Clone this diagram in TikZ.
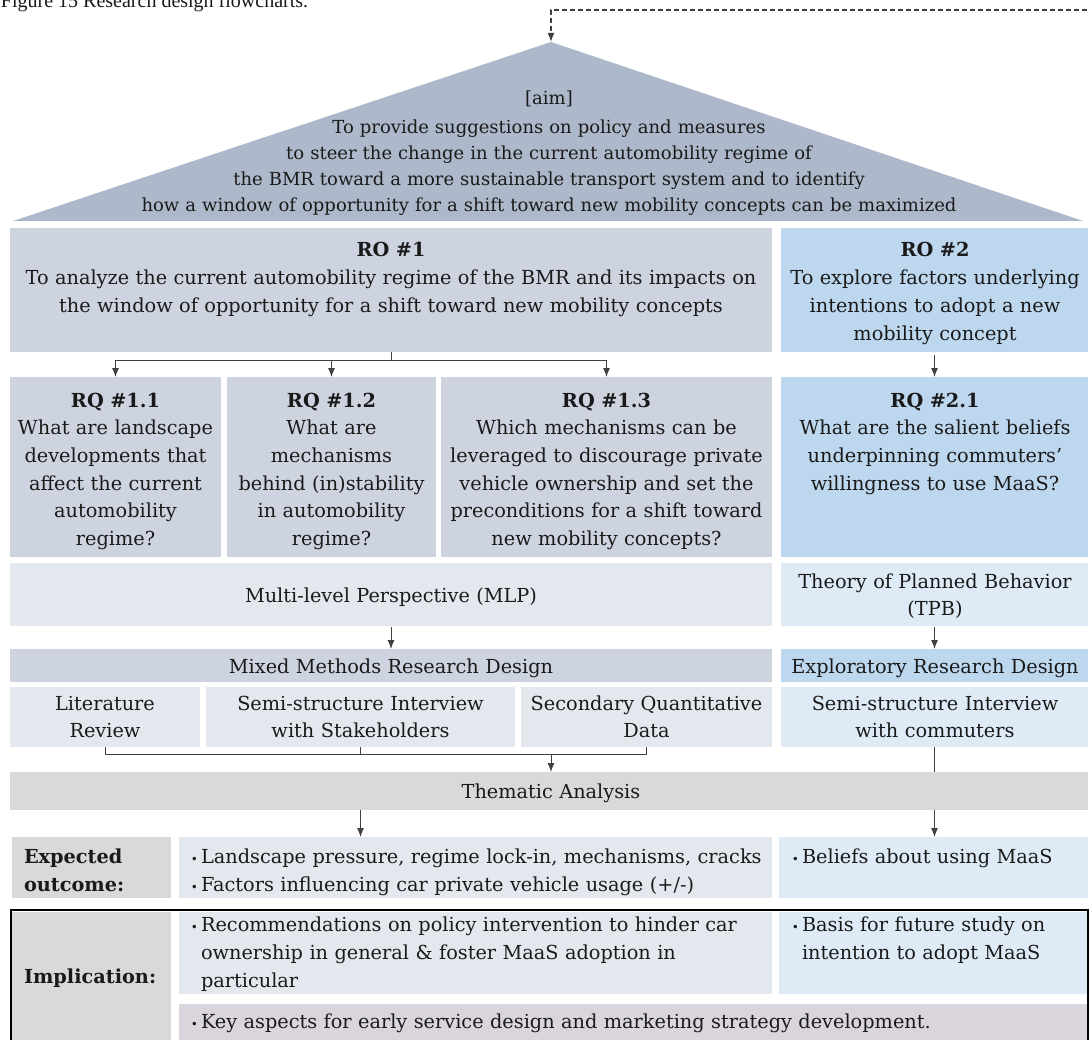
\documentclass[tikz,border=0pt]{standalone}
\usepackage{fontspec}
\setmainfont{DejaVu Serif}
\newfontfamily\capfont{Liberation Serif}
\usetikzlibrary{arrows.meta,fit}
\definecolor{cTri}{HTML}{ADB9CA}
\definecolor{cRO}{HTML}{CDD3DF}
\definecolor{cROb}{HTML}{BDD7EE}
\definecolor{cLt}{HTML}{E3E7EE}
\definecolor{cLtb}{HTML}{DEEBF7}
\definecolor{cGr}{HTML}{D9D9D9}
\definecolor{cKey}{HTML}{DAD5DD}
\definecolor{cLine}{HTML}{404040}
\definecolor{cTxt}{HTML}{1A1A1A}
\newcommand{\bul}{\leavevmode\llap{{\fontsize{12}{12}\selectfont\textbullet}\hspace{3pt}}}
\begin{document}
\begin{tikzpicture}[x=1pt,y=-1pt,
  every node/.style={inner sep=0pt,outer sep=0pt,text=cTxt},
  bx/.style={draw=none,inner sep=0pt},
  tx/.style={anchor=base,align=center,font=\fontsize{19.3}{27.7}\selectfont},
  lx/.style={anchor=base west,align=left,font=\fontsize{19.3}{28.3}\selectfont},
  conn/.style={draw=cLine,line width=1pt},
  arr/.style={conn,-{Latex[length=9pt,width=7pt]}},
  dsh/.style={draw=cLine,line width=1.4pt,dash pattern=on 5pt off 3pt,-{Latex[length=9pt,width=7pt]}}]
\useasboundingbox (0,0) rectangle (1089,1040);
% title
\node[anchor=base west,font=\capfont\fontsize{20}{24}\selectfont] (title) at (1,8) {Figure 15 Research design flowcharts.};
% aim triangle
\fill[cTri] (13,221) -- (551,42) -- (1083,221) -- cycle;
\coordinate (apex) at (551,42);
\coordinate (dstart) at (1095,10);
\draw[dsh] (dstart) -| (apex);
\node[tx,font=\fontsize{18}{25.7}\selectfont] (aim) at (549,105) {[aim]};
\node[tx,font=\fontsize{18}{25.7}\selectfont,text width=900] (aimt) at (549,134) {To provide suggestions on policy and measures\\to steer the change in the current automobility regime of\\the BMR toward a more sustainable transport system and to identify\\how a window of opportunity for a shift toward new mobility concepts can be maximized};
% RO boxes
\node[bx,fill=cRO,fit={(10,228)(772,352)}] (ro1) {};
\node[bx,fill=cROb,fit={(781,228)(1088,352)}] (ro2) {};
\node[tx,text width=760] (ro1t) at (391,257) {\textbf{RO \#1}\\To analyze the current automobility regime of the BMR and its impacts on\\the window of opportunity for a shift toward new mobility concepts};
\node[tx,text width=305] (ro2t) at (935,257) {\textbf{RO \#2}\\To explore factors underlying\\intentions to adopt a new\\mobility concept};
% RQ boxes
\node[bx,fill=cRO,fit={(10,377)(221,557)}] (rq11) {};
\node[bx,fill=cRO,fit={(227,377)(436,557)}] (rq12) {};
\node[bx,fill=cRO,fit={(441,377)(772,557)}] (rq13) {};
\node[bx,fill=cROb,fit={(781,377)(1088,557)}] (rq21) {};
\node[tx,text width=211] (rq11t) at (115.5,407) {\textbf{RQ \#1.1}\\What are landscape\\developments that\\affect the current\\automobility\\regime?};
\node[tx,text width=209] (rq12t) at (331.5,407) {\textbf{RQ \#1.2}\\What are\\mechanisms\\behind (in)stability\\in automobility\\regime?};
\node[tx,text width=331] (rq13t) at (606.5,407) {\textbf{RQ \#1.3}\\Which mechanisms can be\\leveraged to discourage private\\vehicle ownership and set the\\preconditions for a shift toward\\new mobility concepts?};
\node[tx,text width=305] (rq21t) at (935,407) {\textbf{RQ \#2.1}\\What are the salient beliefs\\underpinning commuters’\\willingness to use MaaS?};
% theories
\node[bx,fill=cLt,fit={(10,563)(772,626)}] (mlp) {};
\node[bx,fill=cLtb,fit={(781,563)(1088,626)}] (tpb) {};
\node[tx,text width=760] (mlpt) at (391,602) {Multi-level Perspective (MLP)};
\node[tx,text width=305] (tpbt) at (935,588) {Theory of Planned Behavior\\(TPB)};
% designs
\node[bx,fill=cRO,fit={(10,649)(772,682)}] (mixed) {};
\node[bx,fill=cROb,fit={(781,649)(1088,682)}] (expl) {};
\node[tx,text width=760] (mixedt) at (391,673) {Mixed Methods Research Design};
\node[tx,text width=305] (explt) at (935,673) {Exploratory Research Design};
% methods
\node[bx,fill=cLt,fit={(10,687)(200,747)}] (lit) {};
\node[bx,fill=cLt,fit={(206,687)(515,747)}] (semi) {};
\node[bx,fill=cLt,fit={(521,687)(772,747)}] (sec) {};
\node[bx,fill=cLtb,fit={(781,687)(1088,747)}] (comm) {};
\node[tx,text width=190] (litt) at (105,710) {Literature\\Review};
\node[tx,text width=309] (semit) at (360.5,710) {Semi-structure Interview\\with Stakeholders};
\node[tx,text width=251] (sect) at (646.5,710) {Secondary Quantitative\\Data};
\node[tx,text width=305] (commt) at (935,710) {Semi-structure Interview\\with commuters};
% thematic
\node[bx,fill=cGr,fit={(10,772)(1088,810)}] (them) {};
\node[tx,text width=600] (themt) at (551,798) {Thematic Analysis};
% expected outcome
\node[bx,fill=cGr,fit={(12,837)(171,898)}] (explab) {};
\node[bx,fill=cLt,fit={(179,837)(772,898)}] (expmid) {};
\node[bx,fill=cLtb,fit={(779,837)(1088,898)}] (expr) {};
\node[lx,text width=150] (explabt) at (24,863) {\textbf{Expected}\\\textbf{outcome:}};
\node[lx,text width=575] (expmidt) at (201,863) {\bul Landscape pressure, regime lock-in, mechanisms, cracks\\\bul Factors influencing car private vehicle usage (+/-)};
\node[lx,text width=280] (exprt) at (802,863) {\bul Beliefs about using MaaS};
% implication
\node[bx,fill=cGr,fit={(12,912)(171,1045)}] (implab) {};
\node[bx,fill=cLt,fit={(179,912)(772,994)}] (rec) {};
\node[bx,fill=cLtb,fit={(779,912)(1087,994)}] (basis) {};
\node[bx,fill=cKey,fit={(179,1004)(1087,1045)}] (key) {};
\draw[black,line width=2pt] (11,1050) -- (11,910) -- (1088,910) -- (1088,1050);
\node[lx,text width=150] (implabt) at (24,983) {\textbf{Implication:}};
\node[lx,text width=575] (rect) at (201,931) {\bul Recommendations on policy intervention to hinder car\\ownership in general \& foster MaaS adoption in\\particular};
\node[lx,text width=280] (basist) at (802,931) {\bul Basis for future study on\\intention to adopt MaaS};
\node[lx,text width=880] (keyt) at (201,1028) {\bul Key aspects for early service design and marketing strategy development.};
% connectors
\coordinate (j1) at (391,360);
\draw[conn] (ro1.south) -- (j1);
\draw[arr] (j1) -| (rq11.north);
\draw[arr] (j1) -| (rq12.north);
\draw[arr] (j1) -| (rq13.north);
\draw[arr] ([yshift=-3pt]ro2.south) -- (rq21.north);
\draw[arr] ([yshift=-1pt]mlp.south) -- (mixed.north);
\draw[arr] ([yshift=-1pt]tpb.south) -- (expl.north);
\coordinate (j2) at (551,754);
\draw[conn] (lit.south) |- (j2);
\draw[conn] (sec.south) |- (j2);
\draw[conn] (semi.south) -- (semi.south |- j2);
\draw[arr] (j2) -- (j2 |- them.north);
\draw[conn] (comm.south) -- (comm.south |- them.north);
\draw[arr] (semi.south |- them.south) -- (semi.south |- expmid.north);
\draw[arr] (comm.south |- them.south) -- (comm.south |- expr.north);
\end{tikzpicture}
\end{document}
